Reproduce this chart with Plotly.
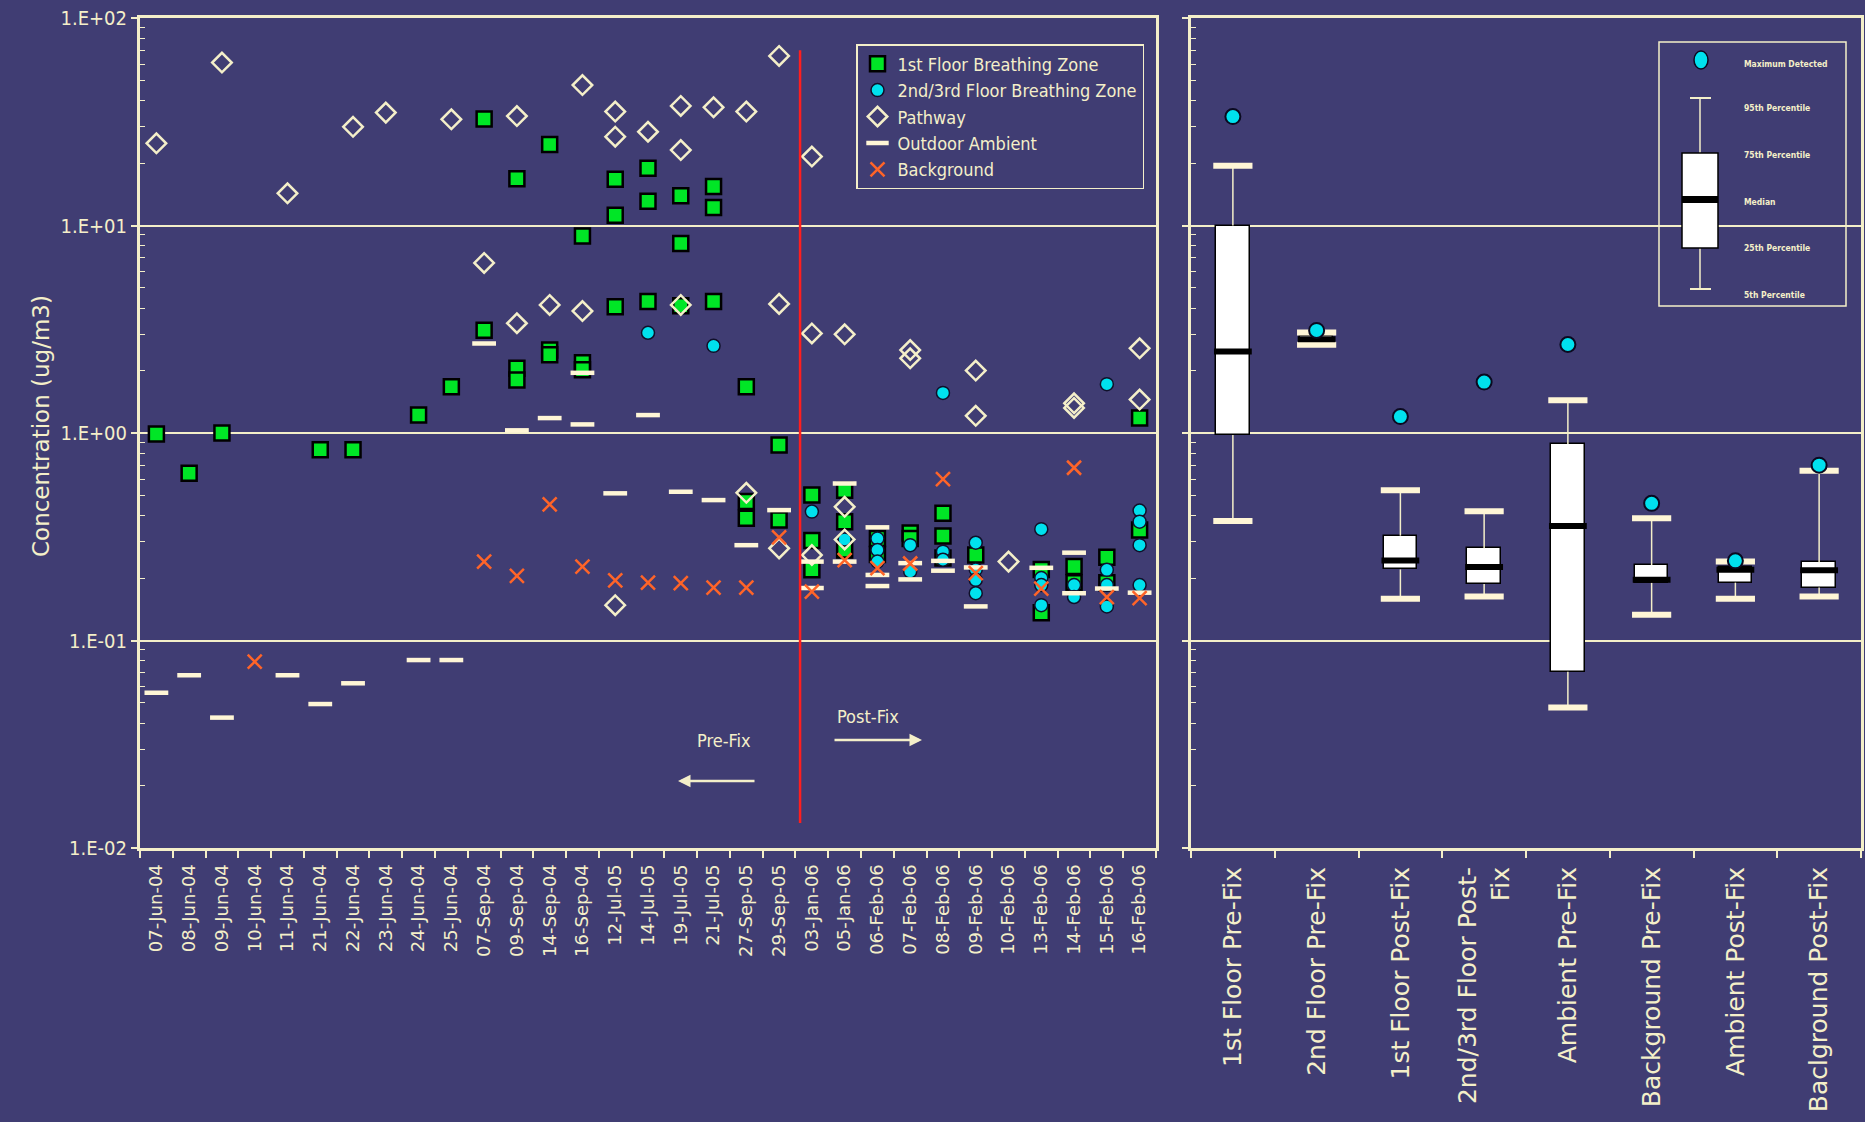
import plotly.graph_objects as go

W, H = 1865, 1122

BG = "#403d73"
CREAM = "#f4efc9"
DASH = "#fff6d6"
GREEN = "#00e626"
CYAN = "#00e1ee"
ORANGE = "#ff6428"
RED = "#ff1e1e"
NARROW = "Liberation Sans Narrow, Arial Narrow, DejaVu Sans Condensed, sans-serif"
WIDE = "DejaVu Sans, Verdana, sans-serif"

# ---------------- sampling dates (left panel) ----------------
dates = ["07-Jun-04", "08-Jun-04", "09-Jun-04", "10-Jun-04", "11-Jun-04",
         "21-Jun-04", "22-Jun-04", "23-Jun-04", "24-Jun-04", "25-Jun-04",
         "07-Sep-04", "09-Sep-04", "14-Sep-04", "16-Sep-04", "12-Jul-05",
         "14-Jul-05", "19-Jul-05", "21-Jul-05", "27-Sep-05", "29-Sep-05",
         "03-Jan-06", "05-Jan-06", "06-Feb-06", "07-Feb-06", "08-Feb-06",
         "09-Feb-06", "10-Feb-06", "13-Feb-06", "14-Feb-06", "15-Feb-06",
         "16-Feb-06"]

# concentrations (ug/m3) as (date, value)
floor1 = [("07-Jun-04", 0.99), ("08-Jun-04", 0.64), ("09-Jun-04", 1.0),
          ("21-Jun-04", 0.83), ("22-Jun-04", 0.83), ("24-Jun-04", 1.22),
          ("25-Jun-04", 1.67), ("07-Sep-04", 32.6), ("07-Sep-04", 3.13),
          ("09-Sep-04", 16.8), ("09-Sep-04", 2.05), ("09-Sep-04", 1.8),
          ("14-Sep-04", 24.6), ("14-Sep-04", 2.51), ("14-Sep-04", 2.38),
          ("16-Sep-04", 8.9), ("16-Sep-04", 2.18), ("16-Sep-04", 2.02),
          ("12-Jul-05", 16.7), ("12-Jul-05", 11.2), ("12-Jul-05", 4.06),
          ("14-Jul-05", 18.9), ("14-Jul-05", 13.1), ("14-Jul-05", 4.3),
          ("19-Jul-05", 13.9), ("19-Jul-05", 8.2), ("19-Jul-05", 4.1),
          ("21-Jul-05", 15.4), ("21-Jul-05", 12.2), ("21-Jul-05", 4.3),
          ("27-Sep-05", 1.67), ("27-Sep-05", 0.467), ("27-Sep-05", 0.388),
          ("29-Sep-05", 0.875), ("29-Sep-05", 0.381),
          ("03-Jan-06", 0.502), ("03-Jan-06", 0.303), ("03-Jan-06", 0.219),
          ("05-Jan-06", 0.53), ("05-Jan-06", 0.374), ("05-Jan-06", 0.273),
          ("06-Feb-06", 0.31), ("06-Feb-06", 0.26),
          ("07-Feb-06", 0.33), ("07-Feb-06", 0.31),
          ("08-Feb-06", 0.41), ("08-Feb-06", 0.319), ("08-Feb-06", 0.25),
          ("09-Feb-06", 0.258),
          ("13-Feb-06", 0.22), ("13-Feb-06", 0.136),
          ("14-Feb-06", 0.227), ("14-Feb-06", 0.19),
          ("15-Feb-06", 0.252), ("15-Feb-06", 0.19),
          ("16-Feb-06", 1.18), ("16-Feb-06", 0.341)]

floor23 = [("14-Jul-05", 3.04), ("21-Jul-05", 2.63), ("03-Jan-06", 0.418),
           ("05-Jan-06", 0.307),
           ("06-Feb-06", 0.31), ("06-Feb-06", 0.273), ("06-Feb-06", 0.24),
           ("07-Feb-06", 0.288), ("07-Feb-06", 0.215),
           ("08-Feb-06", 1.56), ("08-Feb-06", 0.268), ("08-Feb-06", 0.245),
           ("09-Feb-06", 0.296), ("09-Feb-06", 0.22), ("09-Feb-06", 0.196),
           ("09-Feb-06", 0.169),
           ("13-Feb-06", 0.344), ("13-Feb-06", 0.2), ("13-Feb-06", 0.185),
           ("13-Feb-06", 0.148),
           ("14-Feb-06", 0.185), ("14-Feb-06", 0.162),
           ("15-Feb-06", 1.72), ("15-Feb-06", 0.219), ("15-Feb-06", 0.185),
           ("15-Feb-06", 0.146),
           ("16-Feb-06", 0.423), ("16-Feb-06", 0.374), ("16-Feb-06", 0.288),
           ("16-Feb-06", 0.185)]

pathway = [("07-Jun-04", 24.9), ("09-Jun-04", 61.0), ("11-Jun-04", 14.3),
           ("22-Jun-04", 29.9), ("23-Jun-04", 35.0), ("25-Jun-04", 32.5),
           ("07-Sep-04", 6.6), ("09-Sep-04", 33.7), ("09-Sep-04", 3.38),
           ("14-Sep-04", 4.14), ("16-Sep-04", 47.5), ("16-Sep-04", 3.87),
           ("12-Jul-05", 35.4), ("12-Jul-05", 26.8), ("12-Jul-05", 0.148),
           ("14-Jul-05", 28.3), ("19-Jul-05", 37.7), ("19-Jul-05", 23.1),
           ("19-Jul-05", 4.14), ("21-Jul-05", 37.1), ("27-Sep-05", 35.4),
           ("27-Sep-05", 0.515), ("29-Sep-05", 65.6), ("29-Sep-05", 4.19),
           ("29-Sep-05", 0.278), ("03-Jan-06", 21.5), ("03-Jan-06", 3.02),
           ("03-Jan-06", 0.258), ("05-Jan-06", 2.99), ("05-Jan-06", 0.441),
           ("05-Jan-06", 0.307),
           ("07-Feb-06", 2.51), ("07-Feb-06", 2.29), ("09-Feb-06", 2.0),
           ("09-Feb-06", 1.21), ("10-Feb-06", 0.24), ("14-Feb-06", 1.39),
           ("14-Feb-06", 1.32), ("16-Feb-06", 2.56), ("16-Feb-06", 1.45)]

outdoor = [("07-Jun-04", 0.056), ("08-Jun-04", 0.068), ("09-Jun-04", 0.0425),
           ("11-Jun-04", 0.068), ("21-Jun-04", 0.0494), ("22-Jun-04", 0.0622),
           ("24-Jun-04", 0.0805), ("25-Jun-04", 0.0805), ("07-Sep-04", 2.7),
           ("09-Sep-04", 1.03), ("14-Sep-04", 1.18), ("16-Sep-04", 1.10),
           ("16-Sep-04", 1.95), ("12-Jul-05", 0.512), ("14-Jul-05", 1.22),
           ("19-Jul-05", 0.521), ("21-Jul-05", 0.475), ("27-Sep-05", 0.288),
           ("29-Sep-05", 0.425), ("03-Jan-06", 0.24), ("03-Jan-06", 0.179),
           ("05-Jan-06", 0.571), ("05-Jan-06", 0.24),
           ("06-Feb-06", 0.351), ("06-Feb-06", 0.207), ("06-Feb-06", 0.183),
           ("07-Feb-06", 0.236), ("07-Feb-06", 0.197),
           ("08-Feb-06", 0.242), ("08-Feb-06", 0.217),
           ("09-Feb-06", 0.225), ("09-Feb-06", 0.146),
           ("13-Feb-06", 0.224), ("14-Feb-06", 0.265), ("14-Feb-06", 0.169),
           ("15-Feb-06", 0.178), ("16-Feb-06", 0.17)]

background = [("10-Jun-04", 0.079), ("07-Sep-04", 0.24), ("09-Sep-04", 0.205),
              ("14-Sep-04", 0.453), ("16-Sep-04", 0.227), ("12-Jul-05", 0.195),
              ("14-Jul-05", 0.19), ("19-Jul-05", 0.189), ("21-Jul-05", 0.18),
              ("27-Sep-05", 0.18), ("29-Sep-05", 0.314), ("03-Jan-06", 0.172),
              ("05-Jan-06", 0.244), ("06-Feb-06", 0.223), ("07-Feb-06", 0.235),
              ("08-Feb-06", 0.60), ("09-Feb-06", 0.211), ("13-Feb-06", 0.178),
              ("14-Feb-06", 0.68), ("15-Feb-06", 0.162), ("16-Feb-06", 0.16)]

# remediation date marker (category index between 29-Sep-05 and 03-Jan-06)
FIX_POSITION = 19.64
FIX_LINE_LOW, FIX_LINE_HIGH = 0.0132, 70.0

# ---------------- summary statistics (right panel) ----------------
groups = ["1st Floor Pre-Fix", "2nd Floor Pre-Fix", "1st Floor Post-Fix",
          "2nd/3rd Floor Post-<br>Fix", "Ambient Pre-Fix", "Background Pre-Fix",
          "Ambient Post-Fix", "Baclground Post-Fix"]
pct5 = [0.377, 2.66, 0.159, 0.163, 0.0476, 0.133, 0.159, 0.163]
pct25 = [0.978, 2.72, 0.22, 0.187, 0.0707, 0.19, 0.19, 0.18]
median = [2.47, 2.83, 0.243, 0.226, 0.356, 0.196, 0.219, 0.218]
pct75 = [10.0, 2.95, 0.32, 0.278, 0.885, 0.231, 0.226, 0.238]
pct95 = [19.4, 3.05, 0.53, 0.42, 1.44, 0.388, 0.24, 0.658]
max_detected = [33.5, 3.12, 1.2, 1.76, 2.67, 0.458, 0.242, 0.70]

y_tickvals = [0.01, 0.1, 1, 10, 100]
y_ticktext = ["1.E-02", "1.E-01", "1.E+00", "1.E+01", "1.E+02"]


def unzip(pairs):
    return [p[0] for p in pairs], [p[1] for p in pairs]


def px(x):
    return x / W


def py(y):
    return 1 - y / H


fig = go.Figure()

# ---------------- left panel: sample results by date ----------------
x, y = unzip(floor1)
fig.add_trace(go.Scatter(
    x=x, y=y, mode="markers", name="1st Floor Breathing Zone",
    marker=dict(symbol="square", size=15, color=GREEN,
                line=dict(color="black", width=2.5))))
x, y = unzip(floor23)
fig.add_trace(go.Scatter(
    x=x, y=y, mode="markers", name="2nd/3rd Floor Breathing Zone",
    marker=dict(symbol="circle", size=13, color=CYAN,
                line=dict(color="#10102a", width=1.5))))
x, y = unzip(pathway)
fig.add_trace(go.Scatter(
    x=x, y=y, mode="markers", name="Pathway",
    marker=dict(symbol="diamond-open", size=15, color=CREAM,
                line=dict(color=CREAM, width=2.5))))
x, y = unzip(outdoor)
fig.add_trace(go.Scatter(
    x=x, y=y, mode="markers", name="Outdoor Ambient",
    marker=dict(symbol="line-ew", size=17, color=DASH,
                line=dict(color=DASH, width=4.5))))
x, y = unzip(background)
fig.add_trace(go.Scatter(
    x=x, y=y, mode="markers", name="Background",
    marker=dict(symbol="x-thin", size=14, color=ORANGE,
                line=dict(color=ORANGE, width=2.5))))

# ---------------- right panel: percentile boxes ----------------
fig.add_trace(go.Bar(
    x=groups, y=[q3 - q1 for q1, q3 in zip(pct25, pct75)], base=pct25,
    width=0.4, marker=dict(color="white", line=dict(color="black", width=1.5)),
    xaxis="x2", yaxis="y2", showlegend=False, hoverinfo="skip"))

wx, wy = [], []
for g, lo, q1, q3, hi in zip(groups, pct5, pct25, pct75, pct95):
    wx += [g, g, None, g, g, None]
    wy += [lo, q1, None, q3, hi, None]
fig.add_trace(go.Scatter(
    x=wx, y=wy, mode="lines", line=dict(color=CREAM, width=1.5),
    xaxis="x2", yaxis="y2", showlegend=False, hoverinfo="skip"))

fig.add_trace(go.Scatter(
    x=groups + groups, y=pct5 + pct95, mode="markers",
    marker=dict(symbol="line-ew", size=28, color=DASH,
                line=dict(color=DASH, width=6)),
    xaxis="x2", yaxis="y2", showlegend=False))
fig.add_trace(go.Scatter(
    x=groups, y=median, mode="markers",
    marker=dict(symbol="line-ew", size=27, color="black",
                line=dict(color="black", width=6)),
    xaxis="x2", yaxis="y2", showlegend=False))
fig.add_trace(go.Scatter(
    x=groups, y=max_detected, mode="markers",
    marker=dict(symbol="circle", size=15, color=CYAN,
                line=dict(color="#0a0a20", width=2)),
    xaxis="x2", yaxis="y2", showlegend=False))

# ---------------- axes ----------------
y_bottom, y_top = py(848), py(18)
minor_vals = [m * 10.0 ** e for e in range(-2, 2) for m in range(2, 10)]

common_y = dict(
    type="log", range=[-2, 2], domain=[y_bottom, y_top], automargin=False,
    tickmode="array", tickvals=y_tickvals,
    showgrid=True, gridcolor=CREAM, gridwidth=1.5, zeroline=False,
    showline=True, linecolor=CREAM, linewidth=3, mirror=True,
    ticks="outside", ticklen=6, tickwidth=1.5, tickcolor=CREAM,
    minor=dict(tickmode="array", tickvals=minor_vals, ticks="inside",
               ticklen=5, tickwidth=1.2, tickcolor=CREAM, showgrid=False),
)
common_x = dict(
    type="category", tickson="boundaries", ticks="outside", ticklen=7,
    tickwidth=1.5, tickcolor=CREAM, showgrid=False, zeroline=False,
    showline=True, linecolor=CREAM, linewidth=3, mirror=True, tickangle=-90,
    automargin=False,
)

fig.update_layout(
    template="none",
    width=W, height=H, margin=dict(l=0, r=0, t=0, b=0, autoexpand=False),
    paper_bgcolor=BG, plot_bgcolor=BG,
    font=dict(family=WIDE, color=CREAM),
    xaxis=dict(common_x, domain=[px(140), px(1156)], anchor="y",
               categoryorder="array", categoryarray=dates,
               range=[-0.5, len(dates) - 0.5],
               tickfont=dict(family=WIDE, size=18, color=CREAM),
               ticklabelstandoff=6),
    yaxis=dict(common_y, anchor="x", ticktext=y_ticktext,
               tickfont=dict(family=NARROW, size=20, color=CREAM)),
    xaxis2=dict(common_x, domain=[px(1191), px(1861)], anchor="y2",
                categoryorder="array", categoryarray=groups,
                range=[-0.5, len(groups) - 0.5],
                tickfont=dict(family=WIDE, size=25, color=CREAM),
                ticklabelstandoff=6),
    yaxis2=dict(common_y, anchor="x2", showticklabels=False),
    legend=dict(x=px(856), y=py(44), xanchor="left", yanchor="top",
                bgcolor="rgba(0,0,0,0)", bordercolor=CREAM, borderwidth=1.5,
                font=dict(family=NARROW, size=18, color=CREAM),
                tracegroupgap=0),
    bargap=0,
)

# remediation line
fig.add_shape(type="line", xref="x", yref="y",
              x0=FIX_POSITION, x1=FIX_POSITION,
              y0=FIX_LINE_LOW, y1=FIX_LINE_HIGH,
              line=dict(color=RED, width=2.5))

# axis title
fig.add_annotation(text="Concentration (ug/m3)", xref="paper", yref="paper",
                   x=px(26), y=py(426), textangle=-90, showarrow=False,
                   font=dict(family=WIDE, size=23, color=CREAM))

# pre / post labels with arrows
fig.add_annotation(text="Pre-Fix", xref="paper", yref="paper",
                   x=px(724), y=py(753), showarrow=False,
                   font=dict(family=NARROW, size=18, color=CREAM))
fig.add_annotation(text="", xref="paper", yref="paper",
                   x=px(678), y=py(781), ax=78, ay=0, showarrow=True,
                   arrowhead=2, arrowsize=1, arrowwidth=2.5, arrowcolor=CREAM)
fig.add_annotation(text="Post-Fix", xref="paper", yref="paper",
                   x=px(868), y=py(716), showarrow=False,
                   font=dict(family=NARROW, size=18, color=CREAM))
fig.add_annotation(text="", xref="paper", yref="paper",
                   x=px(922), y=py(740), ax=-89, ay=0, showarrow=True,
                   arrowhead=2, arrowsize=1, arrowwidth=2.5, arrowcolor=CREAM)

# key explaining the box glyph
fig.add_shape(type="rect", xref="paper", yref="paper",
              x0=px(1659), x1=px(1846), y0=py(306), y1=py(42),
              line=dict(color=CREAM, width=1.5))
fig.add_shape(type="circle", xref="paper", yref="paper",
              x0=px(1694), x1=px(1708), y0=py(69), y1=py(51),
              fillcolor=CYAN, line=dict(color="#0a0a20", width=1.5))
for ya, yb in [(98, 153), (248, 289)]:
    fig.add_shape(type="line", xref="paper", yref="paper",
                  x0=px(1700), x1=px(1700), y0=py(ya), y1=py(yb),
                  line=dict(color=CREAM, width=1.5))
for yc in (98, 289):
    fig.add_shape(type="line", xref="paper", yref="paper",
                  x0=px(1690), x1=px(1711), y0=py(yc), y1=py(yc),
                  line=dict(color=CREAM, width=2))
fig.add_shape(type="rect", xref="paper", yref="paper",
              x0=px(1682), x1=px(1718), y0=py(248), y1=py(153),
              fillcolor="white", line=dict(color="black", width=1.5))
fig.add_shape(type="rect", xref="paper", yref="paper",
              x0=px(1682), x1=px(1718), y0=py(203), y1=py(196),
              fillcolor="black", line=dict(color="black", width=0))
key_labels = ["Maximum Detected", "95th Percentile", "75th Percentile",
              "Median", "25th Percentile", "5th Percentile"]
key_rows = [57, 101, 148, 195, 241, 288]
for lab, yr in zip(key_labels, key_rows):
    fig.add_annotation(text="<b>%s</b>" % lab, xref="paper", yref="paper",
                       x=px(1742), y=py(yr), xanchor="left", showarrow=False,
                       font=dict(family=NARROW, size=8.5, color=CREAM))

fig.write_html("out.html")
